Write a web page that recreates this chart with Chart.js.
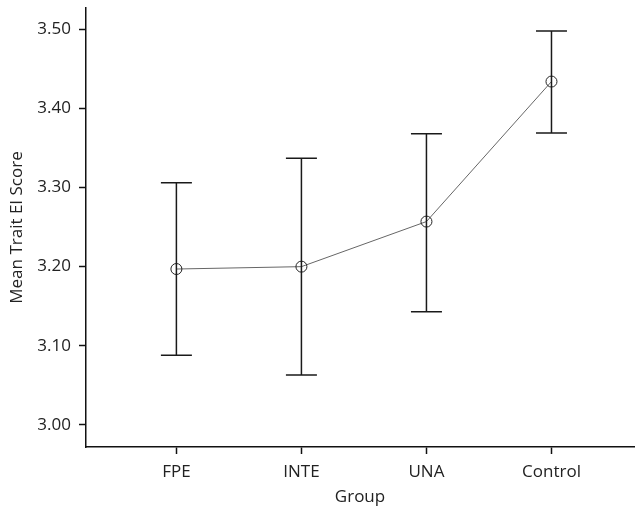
<!DOCTYPE html>
<html>
<head>
<meta charset="utf-8">
<script src="https://cdn.jsdelivr.net/npm/chart.js@4.4.1/dist/chart.umd.min.js"></script>
<style>
  html, body { margin: 0; padding: 0; background: #fff; overflow: hidden; }
  #wrap { width: 635px; height: 509px; }
  canvas { display: block; }
</style>
</head>
<body>
<div id="wrap"><canvas id="meanChart" width="635" height="509"></canvas></div>
<script>
// data
const groups = ['FPE', 'INTE', 'UNA', 'Control'];
const means = [3.197, 3.200, 3.257, 3.434];
const upper = [3.306, 3.337, 3.368, 3.498];
const lower = [3.088, 3.063, 3.143, 3.369];
const yTicks = [3.00, 3.10, 3.20, 3.30, 3.40, 3.50];

const font = "'Open Sans', 'Noto Sans', sans-serif";

// draws the error bars from upper/lower through the chart scales
const errorBars = {
    id: 'errorBars',
    afterDatasetsDraw(chart) {
        const ctx = chart.ctx;
        const xs = chart.scales.x;
        const ys = chart.scales.y;
        ctx.save();
        ctx.strokeStyle = '#1a1a1a';
        ctx.lineWidth = 1.5;
        for (let i = 0; i < groups.length; i++) {
            const x = xs.getPixelForValue(i);
            const top = ys.getPixelForValue(upper[i]);
            const bot = ys.getPixelForValue(lower[i]);
            ctx.beginPath();
            ctx.moveTo(x, top);
            ctx.lineTo(x, bot);
            ctx.moveTo(x - 15.5, top);
            ctx.lineTo(x + 15.5, top);
            ctx.moveTo(x - 15.5, bot);
            ctx.lineTo(x + 15.5, bot);
            ctx.stroke();
        }
        ctx.restore();
    }
};

const ctx = document.getElementById('meanChart').getContext('2d');
const chart = new Chart(ctx, {
    type: 'line',
    data: {
        datasets: [{
            data: means.map((m, i) => ({ x: i, y: m })),
            borderColor: '#666',
            borderWidth: 1,
            pointRadius: 5.5,
            pointBorderColor: '#222',
            pointBorderWidth: 1,
            pointBackgroundColor: 'rgba(0,0,0,0)',
            tension: 0
        }]
    },
    options: {
        responsive: false,
        animation: false,
        layout: {
            autoPadding: false,
            padding: { top: 8, right: 1, left: 0, bottom: 0 }
        },
        plugins: {
            legend: { display: false },
            tooltip: { enabled: false }
        },
        scales: {
            x: {
                type: 'linear',
                min: -0.723,
                max: 3.66,
                afterBuildTicks(axis) {
                    axis.ticks = groups.map((g, i) => ({ value: i }));
                },
                afterFit(axis) {
                    axis.height = 62;
                    axis.paddingLeft = 0;
                    axis.paddingRight = 0;
                },
                grid: {
                    drawOnChartArea: false,
                    drawTicks: true,
                    tickLength: 7,
                    tickWidth: 1.5,
                    tickColor: '#111'
                },
                border: { color: '#111', width: 1.5 },
                ticks: {
                    padding: 8,
                    color: '#222',
                    font: { family: font, size: 17 },
                    maxRotation: 0,
                    callback: (v) => groups[v]
                },
                title: {
                    display: true,
                    text: 'Group',
                    color: '#222',
                    font: { family: font, size: 17 },
                    padding: { top: 0, bottom: 2 }
                }
            },
            y: {
                min: 2.972,
                max: 3.527,
                afterBuildTicks(axis) {
                    axis.ticks = yTicks.map(v => ({ value: v }));
                },
                afterFit(axis) {
                    axis.width = 86;
                    axis.paddingTop = 0;
                    axis.paddingBottom = 0;
                },
                grid: {
                    drawOnChartArea: false,
                    drawTicks: true,
                    tickLength: 7,
                    tickWidth: 1.5,
                    tickColor: '#111'
                },
                border: { color: '#111', width: 1.5 },
                ticks: {
                    padding: 8,
                    color: '#222',
                    font: { family: font, size: 17 },
                    callback: (v) => v.toFixed(2)
                },
                title: {
                    display: true,
                    text: 'Mean Trait EI Score',
                    color: '#222',
                    font: { family: font, size: 17 },
                    padding: { top: 7, bottom: 0 }
                }
            }
        }
    },
    plugins: [errorBars]
});
</script>
</body>
</html>
